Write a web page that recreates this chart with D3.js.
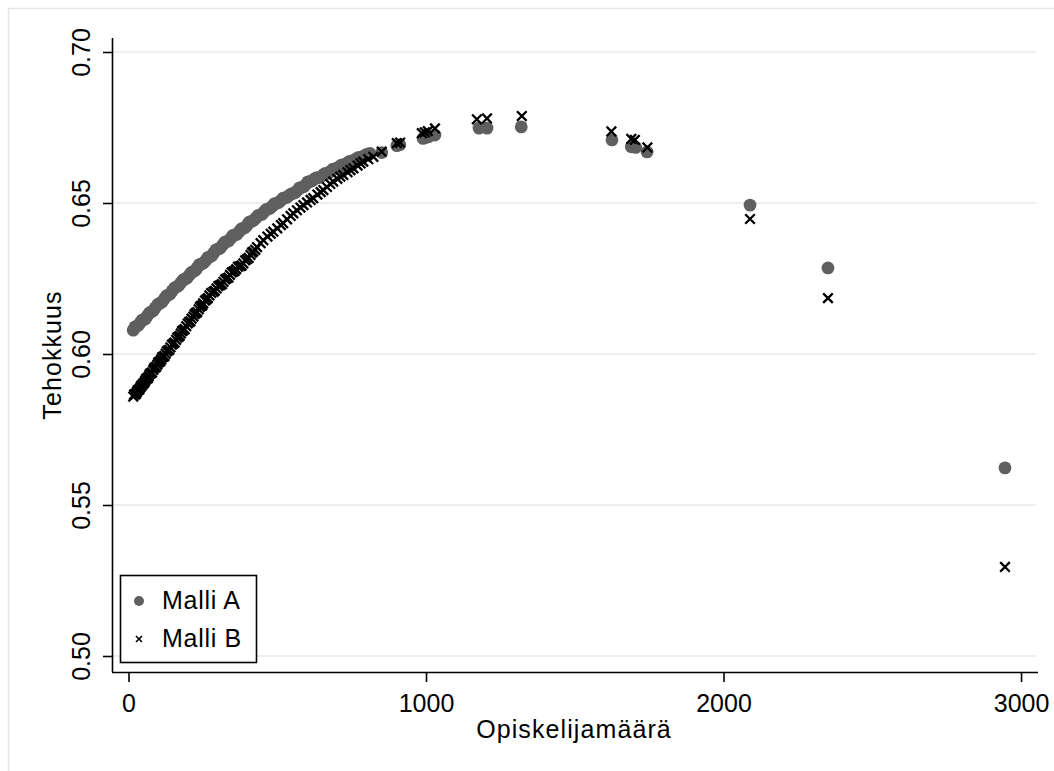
<!DOCTYPE html>
<html>
<head>
<meta charset="utf-8">
<script src="https://cdn.jsdelivr.net/npm/d3@7"></script>
<style>
    body { margin: 0; background: #fff; }
    svg { display: block; font-family: "Liberation Sans", Arial, sans-serif; }
</style>
</head>
<body>
<svg id="chart" width="1054" height="771"></svg>
<script>
// Malli A (circles): [opiskelijamäärä, tehokkuus]
var malliA = [
    [16, .6079], [22, .6090], [28, .6092], [34, .6096], [40, .6104], [45, .6112], [50, .6113],
    [57, .6117], [63, .6126], [70, .6136], [76, .6139], [83, .6143], [90, .6153], [98, .6164],
    [106, .6168], [113, .6172], [120, .6182], [127, .6192], [133, .6195], [140, .6199],
    [147, .6209], [155, .6219], [162, .6223], [169, .6227], [176, .6236], [183, .6245],
    [190, .6248], [197, .6252], [204, .6261], [211, .6270], [218, .6273], [225, .6277],
    [231, .6286], [238, .6296], [245, .6298], [252, .6301], [260, .6310], [267, .6320],
    [274, .6322], [281, .6326], [287, .6335], [294, .6345], [301, .6348], [308, .6350],
    [316, .6360], [323, .6370], [330, .6372], [337, .6375], [344, .6383], [351, .6393],
    [358, .6394], [365, .6397], [372, .6405], [379, .6414], [386, .6416], [393, .6420],
    [400, .6428], [406, .6437], [413, .6439], [420, .6442], [428, .6450], [435, .6458],
    [442, .6460], [449, .6463], [455, .6470], [462, .6478], [469, .6480], [476, .6483],
    [484, .6490], [491, .6498], [498, .6499], [505, .6502], [512, .6508], [519, .6516],
    [526, .6517], [533, .6519], [540, .6525], [547, .6530], [554, .6532], [561, .6535],
    [568, .6542], [575, .6550], [581, .6551], [589, .6554], [596, .6561], [603, .6570],
    [610, .6571], [616, .6573], [623, .6578], [630, .6583], [637, .6584], [645, .6586],
    [652, .6591], [659, .6597], [666, .6598], [673, .6600], [680, .6606], [687, .6612],
    [694, .6613], [701, .6615], [708, .6620], [715, .6625], [722, .6626], [729, .6628],
    [736, .6633], [743, .6638], [750, .6639], [757, .6640], [764, .6645], [771, .6650],
    [778, .6651], [786, .6653], [795, .6658], [803, .6662], [812, .6664], [851, .6667],
    [902, .6690], [912, .6693], [990, .6714], [1000, .6717], [1010, .6720], [1030, .6725],
    [1178, .6748], [1205, .6748], [1320, .6752], [1625, .6709], [1690, .6686], [1705, .6684],
    [1743, .6669], [2089, .6493], [2351, .6285], [2946, .5623]
];

// Malli B (crosses)
var malliB = [
    [16, .5859], [19, .5866], [22, .5866], [25, .5868], [28, .5874], [31, .5880], [34, .5881],
    [37, .5884], [40, .5890], [43, .5895], [46, .5897], [50, .5903], [53, .5905], [56, .5911],
    [59, .5917], [62, .5919], [65, .5920], [68, .5926], [71, .5933], [75, .5936], [79, .5939],
    [83, .5947], [86, .5953], [90, .5956], [93, .5958], [97, .5965], [100, .5972], [104, .5974],
    [107, .5976], [110, .5982], [113, .5989], [117, .5991], [121, .5993], [125, .6001],
    [129, .6009], [133, .6012], [137, .6014], [141, .6022], [146, .6031], [151, .6035],
    [155, .6038], [160, .6047], [164, .6055], [168, .6057], [172, .6060], [176, .6068],
    [180, .6076], [184, .6079], [189, .6082], [194, .6092], [199, .6101], [204, .6106],
    [208, .6108], [212, .6117], [218, .6124], [222, .6132], [226, .6135], [231, .6139],
    [236, .6148], [240, .6156], [244, .6159], [248, .6161], [251, .6168], [257, .6177],
    [262, .6181], [267, .6185], [272, .6194], [278, .6202], [285, .6206], [290, .6209],
    [296, .6217], [302, .6225], [308, .6228], [314, .6231], [319, .6239], [325, .6247],
    [330, .6250], [336, .6253], [341, .6262], [347, .6270], [352, .6273], [357, .6275],
    [362, .6281], [368, .6289], [375, .6291], [380, .6293], [386, .6300], [392, .6310],
    [398, .6314], [404, .6318], [410, .6328], [415, .6336], [419, .6339], [426, .6345],
    [432, .6354], [444, .6367], [453, .6377], [467, .6389], [478, .6398], [487, .6405],
    [500, .6416], [512, .6427], [520, .6433], [533, .6446], [545, .6457], [554, .6466],
    [566, .6476], [578, .6485], [588, .6493], [600, .6502], [612, .6510], [621, .6516],
    [635, .6528], [646, .6536], [655, .6543], [667, .6553], [678, .6563], [688, .6571],
    [702, .6580], [712, .6587], [722, .6593], [736, .6602], [746, .6609], [756, .6615],
    [770, .6624], [780, .6631], [789, .6637], [806, .6645], [823, .6653], [851, .6670],
    [902, .6698], [913, .6700], [986, .6731], [996, .6734], [1006, .6738], [1030, .6747],
    [1171, .6777], [1205, .6780], [1322, .6788], [1623, .6737], [1690, .6712], [1702, .6709],
    [1744, .6684], [2089, .6447], [2351, .6185], [2946, .5295]
];

var xTicks = [0, 1000, 2000, 3000];
var yTicks = [0.50, 0.55, 0.60, 0.65, 0.70];
var seriesNames = ["Malli A", "Malli B"];

var svg = d3.select("#chart");

// outer frame (only top/left edges are visible in the original)
svg.append("path")
    .attr("d", "M8.5,771V8.5H1054")
    .attr("fill", "none")
    .attr("stroke", "#e6e6e6")
    .attr("stroke-width", 1.5);

var x = d3.scaleLinear().domain([-55.5, 3057]).range([112, 1038]);
var y = d3.scaleLinear().domain([0.50, 0.70]).range([656, 52]);

// gridlines
svg.append("g")
    .selectAll("line")
    .data(yTicks)
    .enter()
    .append("line")
    .attr("x1", 113)
    .attr("x2", 1036)
    .attr("y1", d => y(d))
    .attr("y2", d => y(d))
    .attr("stroke", "#e8e8e8")
    .attr("stroke-width", 1.5);

// y axis
var yAxis = svg.append("g")
    .attr("transform", "translate(112,0)")
    .call(d3.axisLeft(y).tickValues(yTicks).tickFormat(d3.format(".2f")).tickSize(9).tickSizeOuter(0));
yAxis.select(".domain").attr("d", "M0.5,38V672");
yAxis.selectAll("line").attr("stroke-width", 1.6);
yAxis.select(".domain").attr("stroke-width", 1.6);
yAxis.selectAll("text")
    .attr("font-size", 25)
    .attr("font-family", "Liberation Sans, Arial, sans-serif")
    .attr("fill", "#000")
    .attr("x", 0).attr("y", 0).attr("dy", 0)
    .attr("text-anchor", "middle")
    .attr("transform", "translate(-22,0) rotate(-90)");

// x axis
var xAxis = svg.append("g")
    .attr("transform", "translate(0,672)")
    .call(d3.axisBottom(x).tickValues(xTicks).tickFormat(d3.format("d")).tickSize(10).tickSizeOuter(0));
xAxis.select(".domain").attr("d", "M112,0.5H1038").attr("stroke-width", 1.6);
xAxis.selectAll("line").attr("stroke-width", 1.6);
xAxis.selectAll("text")
    .attr("font-size", 25)
    .attr("font-family", "Liberation Sans, Arial, sans-serif")
    .attr("fill", "#000")
    .attr("y", 40).attr("dy", 0);

// axis titles
svg.append("text")
    .attr("x", 574)
    .attr("y", 738)
    .attr("text-anchor", "middle")
    .attr("font-size", 25)
    .attr("letter-spacing", 1.1)
    .text("Opiskelijamäärä");

svg.append("text")
    .attr("transform", "translate(61,355) rotate(-90)")
    .attr("text-anchor", "middle")
    .attr("font-size", 25)
    .attr("letter-spacing", 1.1)
    .text("Tehokkuus");

// Malli A
svg.append("g")
    .selectAll("circle")
    .data(malliA)
    .enter()
    .append("circle")
    .attr("cx", d => x(d[0]))
    .attr("cy", d => y(d[1]))
    .attr("r", 6.4)
    .attr("fill", "#5f5f5f");

// Malli B
var cross = function (s) {
    return "M" + (-s) + "," + (-s) + "L" + s + "," + s + "M" + (-s) + "," + s + "L" + s + "," + (-s);
};
svg.append("g")
    .selectAll("path")
    .data(malliB)
    .enter()
    .append("path")
    .attr("transform", d => "translate(" + x(d[0]) + "," + y(d[1]) + ")")
    .attr("d", cross(4.8))
    .attr("stroke", "#000")
    .attr("stroke-width", 2.3)
    .attr("fill", "none");

// legend
var legend = svg.append("g");
legend.append("rect")
    .attr("x", 120.5)
    .attr("y", 575.5)
    .attr("width", 136)
    .attr("height", 87)
    .attr("fill", "#fff")
    .attr("stroke", "#000")
    .attr("stroke-width", 1.6);
legend.append("circle")
    .attr("cx", 139)
    .attr("cy", 601)
    .attr("r", 5)
    .attr("fill", "#5f5f5f");
legend.append("path")
    .attr("transform", "translate(139,639)")
    .attr("d", cross(3))
    .attr("stroke", "#000")
    .attr("stroke-width", 1.6);
legend.selectAll("text")
    .data(seriesNames)
    .enter()
    .append("text")
    .attr("x", 162)
    .attr("y", (d, i) => 609 + i * 38)
    .attr("font-size", 25)
    .attr("letter-spacing", 0.7)
    .text(d => d);
</script>
</body>
</html>
